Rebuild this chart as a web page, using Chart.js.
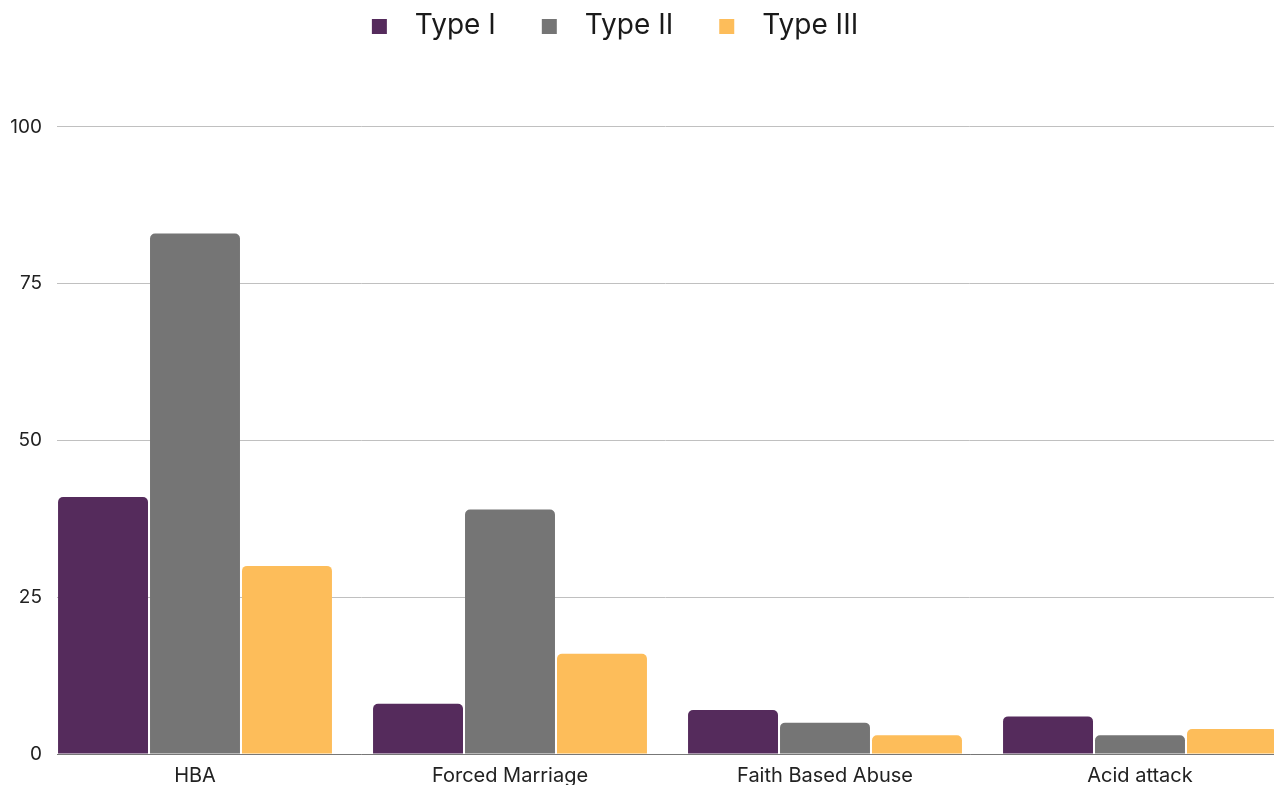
<!DOCTYPE html>
<html>
<head>
<meta charset="utf-8">
<script src="https://cdn.jsdelivr.net/npm/chart.js@4.4.1/dist/chart.umd.min.js"></script>
<style>
  html, body { margin: 0; padding: 0; background: #ffffff; overflow: hidden; }
  #wrap { position: relative; width: 1274px; height: 798px; }
</style>
</head>
<body>
<div id="wrap"><canvas id="chart"></canvas></div>
<script>
// Abuse categories along the x axis
const categories = ['HBA', 'Forced Marriage', 'Faith Based Abuse', 'Acid attack'];

// Counts per category for each type
const typeI   = [41, 8, 7, 6];
const typeII  = [83, 39, 5, 3];
const typeIII = [30, 16, 3, 4];

const seriesNames = ['Type I', 'Type II', 'Type III'];
const seriesColors = ['#552b5c', '#757575', '#fdbd5a'];

// Value-axis tick labels
const yTicks = [0, 25, 50, 75, 100];

// Square legend markers with space to their left
function makeMarker(color) {
  const c = document.createElement('canvas');
  c.width = 65;
  c.height = 15;
  const g = c.getContext('2d');
  g.fillStyle = color;
  g.fillRect(36, 0, 15, 15);
  return c;
}
const markers = seriesColors.map(makeMarker);

// Nudges the legend row horizontally after layout
const legendShift = {
  id: 'legendShift',
  afterLayout(chart, args, opts) {
    const lg = chart.legend;
    if (lg) {
      lg.left -= opts.dx;
      lg.right -= opts.dx;
    }
  }
};

function toPoints(values) {
  return values.map((v, i) => ({ x: i, y: v }));
}

function draw() {
  const ctx = document.getElementById('chart').getContext('2d');
  new Chart(ctx, {
    type: 'bar',
    data: {
      datasets: [typeI, typeII, typeIII].map((vals, k) => ({
        label: seriesNames[k],
        data: toPoints(vals),
        backgroundColor: seriesColors[k],
        borderRadius: { topLeft: 5, topRight: 5 },
        borderSkipped: 'bottom',
        categoryPercentage: 0.876,
        barPercentage: 0.978
      }))
    },
    plugins: [legendShift],
    options: {
      responsive: true,
      maintainAspectRatio: false,
      animation: false,
      layout: { padding: { top: 2, right: 0, bottom: 0, left: 0 } },
      plugins: {
        legendShift: { dx: 40 },
        tooltip: { enabled: false },
        legend: {
          position: 'top',
          align: 'center',
          labels: {
            usePointStyle: true,
            pointStyleWidth: 65,
            boxHeight: 15,
            padding: 10,
            color: '#1a1a1a',
            font: { family: 'Inter', size: 28 },
            generateLabels(chart) {
              const items = Chart.defaults.plugins.legend.labels.generateLabels(chart);
              items.forEach(it => { it.pointStyle = markers[it.datasetIndex]; });
              return items;
            }
          }
        }
      },
      scales: {
        x: {
          type: 'linear',
          offset: false,
          min: -0.4381,
          max: 3.4254,
          grid: { display: false, drawTicks: false, offset: false },
          border: { display: true, color: '#777777', width: 1 },
          afterBuildTicks(axis) {
            axis.ticks = categories.map((_, i) => ({ value: i }));
          },
          ticks: {
            padding: 10,
            color: '#222222',
            font: { family: 'Inter', size: 20 },
            maxRotation: 0,
            autoSkip: false,
            callback(value) { return categories[value]; }
          }
        },
        y: {
          min: 0,
          max: 112.28,
          grid: { color: '#c0c0c0', lineWidth: 1, drawTicks: false },
          border: { display: false },
          afterBuildTicks(axis) {
            axis.ticks = yTicks.map(v => ({ value: v }));
          },
          afterFit(axis) { axis.width = 57; },
          ticks: {
            padding: 15,
            color: '#222222',
            font: { family: 'Inter', size: 19 }
          }
        }
      }
    }
  });
}

if (document.fonts && document.fonts.load) {
  document.fonts.load('28px Inter').then(draw, draw);
} else {
  draw();
}
</script>
</body>
</html>
